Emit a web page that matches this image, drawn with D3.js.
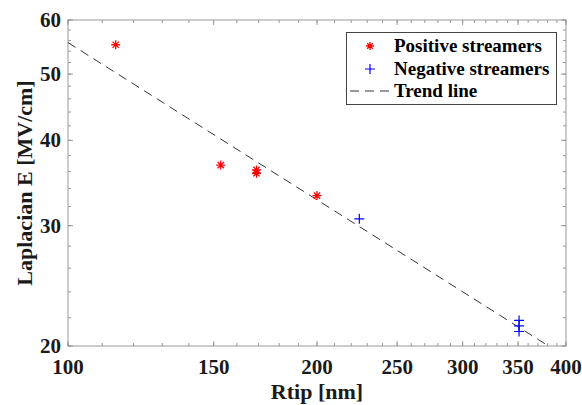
<!DOCTYPE html>
<html>
<head>
<meta charset="utf-8">
<script src="https://cdn.jsdelivr.net/npm/d3@7"></script>
<style>
  body { margin: 0; background: #fff; }
  svg text { font-family: "Times New Roman", "Liberation Serif", Times, serif; font-weight: bold; }
</style>
</head>
<body>
<svg width="582" height="405"></svg>
<script>
// data
let posR = [114.2, 153, 169, 169, 200],
    posE = [55.2, 36.8, 36.2, 35.8, 33.2];
let negR = [225, 351, 351, 351],
    negE = [30.7, 21.8, 21.4, 21.0];
let trendR = [100, 381],
    trendE = [55.6, 20];
let xTicks = [100, 150, 200, 250, 300, 350, 400],
    yTicks = [20, 30, 40, 50, 60];
let xMinor = d3.range(100, 401, 10),
    yMinor = d3.range(20, 61, 2);
let legendLabels = ['Positive streamers', 'Negative streamers', 'Trend line'];

let svg = d3.select('svg'),
    pLeft = 68, pRight = 566, pTop = 20, pBottom = 346;

let x = d3.scaleLog().domain([100, 400]).range([pLeft, pRight]),
    y = d3.scaleLog().domain([20, 60]).range([pBottom, pTop]);

let axisColor = '#999',
    textColor = '#1a1a1a';

let g = svg.append('g');

// minor + major ticks, inward, on all four sides
function xticks(vals, len) {
  vals.forEach(function(v) {
    g.append('line').attr('x1', x(v)).attr('x2', x(v)).attr('y1', pBottom).attr('y2', pBottom - len).attr('stroke', axisColor);
    g.append('line').attr('x1', x(v)).attr('x2', x(v)).attr('y1', pTop).attr('y2', pTop + len).attr('stroke', axisColor);
  });
}
function yticks(vals, len) {
  vals.forEach(function(v) {
    g.append('line').attr('y1', y(v)).attr('y2', y(v)).attr('x1', pLeft).attr('x2', pLeft + len).attr('stroke', axisColor);
    g.append('line').attr('y1', y(v)).attr('y2', y(v)).attr('x1', pRight).attr('x2', pRight - len).attr('stroke', axisColor);
  });
}
xticks(xMinor, 3);
xticks(xTicks, 5);
yticks(yMinor, 3);
yticks(yTicks, 5);

g.append('rect')
  .attr('x', pLeft).attr('y', pTop)
  .attr('width', pRight - pLeft).attr('height', pBottom - pTop)
  .attr('fill', 'none').attr('stroke', axisColor);

// tick labels
g.selectAll('.xl').data(xTicks).enter().append('text')
  .attr('x', function(d) { return x(d); })
  .attr('y', pBottom + 28)
  .attr('text-anchor', 'middle')
  .attr('font-size', '21px')
  .attr('fill', textColor)
  .text(function(d) { return d; });

g.selectAll('.yl').data(yTicks).enter().append('text')
  .attr('x', pLeft - 7)
  .attr('y', function(d) { return y(d) + 7; })
  .attr('text-anchor', 'end')
  .attr('font-size', '21px')
  .attr('fill', textColor)
  .text(function(d) { return d; });

// axis titles
svg.append('text')
  .attr('x', 317).attr('y', 399)
  .attr('text-anchor', 'middle')
  .attr('font-size', '22px')
  .attr('fill', textColor)
  .text('Rtip [nm]');

svg.append('text')
  .attr('transform', 'translate(32,183) rotate(-90)')
  .attr('text-anchor', 'middle')
  .attr('font-size', '22px')
  .attr('fill', textColor)
  .text('Laplacian E [MV/cm]');

// trend line
let line = d3.line()
  .x(function(d) { return x(d[0]); })
  .y(function(d) { return y(d[1]); });

g.append('path')
  .datum(d3.zip(trendR, trendE))
  .attr('d', line)
  .attr('fill', 'none')
  .attr('stroke', '#333')
  .attr('stroke-width', 1)
  .attr('stroke-dasharray', '9,6');

// markers
function asterisk(sel, s) {
  sel.append('path')
    .attr('d', 'M' + (-s) + ',0H' + s + 'M0,' + (-s) + 'V' + s +
      'M' + (-s * 0.7) + ',' + (-s * 0.7) + 'L' + (s * 0.7) + ',' + (s * 0.7) +
      'M' + (-s * 0.7) + ',' + (s * 0.7) + 'L' + (s * 0.7) + ',' + (-s * 0.7))
    .attr('stroke', '#ff0000').attr('stroke-width', 1.3).attr('fill', 'none');
}
function plus(sel, s) {
  sel.append('path')
    .attr('d', 'M' + (-s) + ',0H' + s + 'M0,' + (-s) + 'V' + s)
    .attr('stroke', '#0000ff').attr('stroke-width', 1.2).attr('fill', 'none');
}

g.selectAll('.pos').data(d3.zip(posR, posE)).enter().append('g')
  .attr('transform', function(d) { return 'translate(' + x(d[0]) + ',' + y(d[1]) + ')'; })
  .each(function() { asterisk(d3.select(this), 4.5); });

g.selectAll('.neg').data(d3.zip(negR, negE)).enter().append('g')
  .attr('transform', function(d) { return 'translate(' + x(d[0]) + ',' + y(d[1]) + ')'; })
  .each(function() { plus(d3.select(this), 5); });

// legend
let lg = svg.append('g');
lg.append('rect')
  .attr('x', 346.5).attr('y', 32.5)
  .attr('width', 210).attr('height', 72)
  .attr('fill', '#fff').attr('stroke', '#444');

let rowY = [46, 69, 91];
asterisk(lg.append('g').attr('transform', 'translate(370,' + rowY[0] + ')'), 4);
plus(lg.append('g').attr('transform', 'translate(370,' + rowY[1] + ')'), 5);
lg.append('line')
  .attr('x1', 350).attr('x2', 391)
  .attr('y1', rowY[2]).attr('y2', rowY[2])
  .attr('stroke', '#333').attr('stroke-dasharray', '9,6');

lg.selectAll('.lt').data(legendLabels).enter().append('text')
  .attr('x', 394)
  .attr('y', function(d, i) { return rowY[i] + 6; })
  .attr('font-size', '19px')
  .attr('fill', '#000')
  .text(function(d) { return d; });
</script>
</body>
</html>
